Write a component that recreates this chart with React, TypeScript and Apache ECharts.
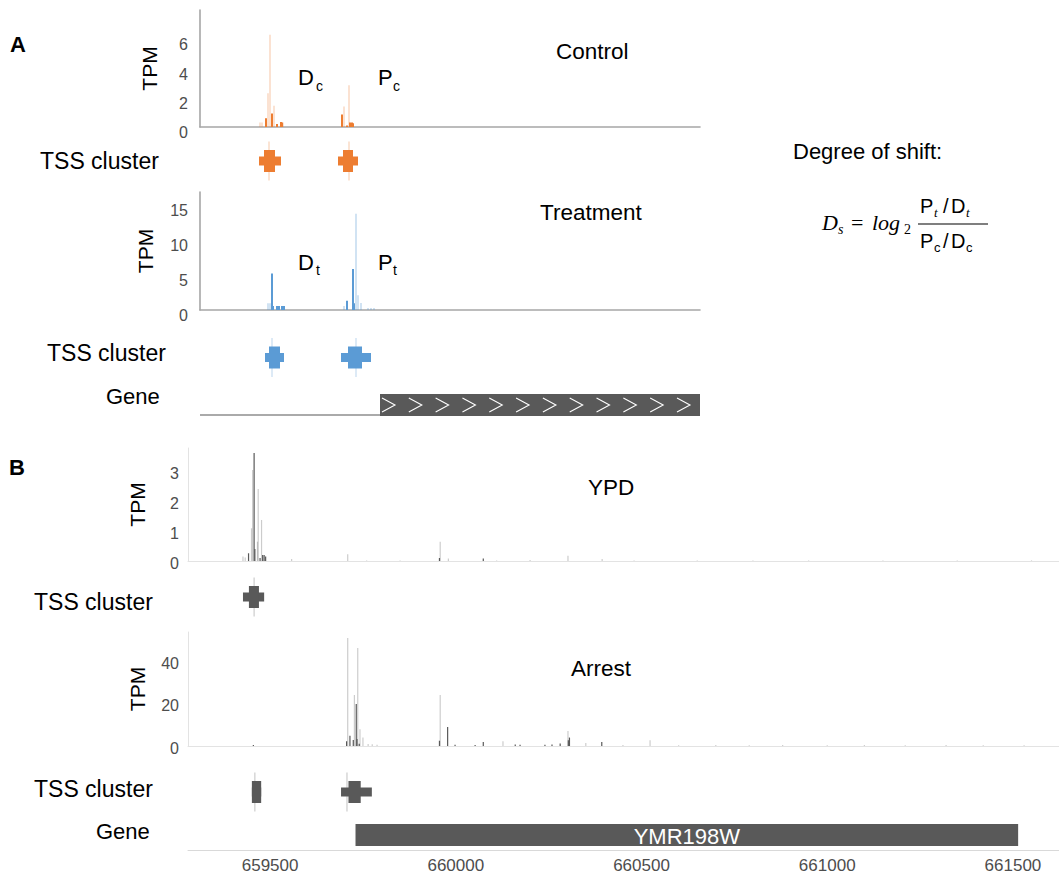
import React, { useEffect, useRef } from 'react';
import * as echarts from 'echarts';

// ---------------- Panel A (schematic, x = relative position units) ----------------
const controlLight: [number, number][] = [[60, 0.3], [62, 0.3], [68, 2.3], [70, 6.3], [74, 1.45], [83, 0.3], [144, 1.4], [149, 2.86]];
const controlDark: [number, number][] = [[66, 0.6], [72, 0.93], [77, 0.2], [81, 0.35], [82, 0.3], [142, 0.86], [147, 0.1], [150, 0.3], [152, 0.3], [153, 0.25]];
const treatLight: [number, number][] = [[68, 0.95], [70, 0.95], [144, 0.57], [156, 13.8], [158, 2.1], [161, 1.0], [168, 0.3], [171, 0.3], [174, 0.3]];
const treatDark: [number, number][] = [[72, 5.24], [73, 0.57], [77, 0.57], [79, 0.57], [82, 0.57], [84, 0.57], [147, 1.33], [153, 5.86], [154, 0.95]];
// [start, end, quantileLow, quantileHigh, dominant]
const controlClusters = [[59, 81, 64, 75, 69], [138, 158, 143, 153, 149]];
const treatClusters = [[65, 84, 69, 80, 72], [141, 171, 148, 162, 156]];
// [upstream line start, gene start, gene end]
const geneA = [[0, 180, 500]];
const geneAChevrons = 12;
const controlTicks = { max: 8, interval: 2 };
const treatTicks = { max: 16.9, interval: 5 };

// ---------------- Panel B (genomic coordinates) ----------------
const bRange = [659279, 661624];
const bTickValues = [659500, 660000, 660500, 661000, 661500];
const ypdLight: [number, number][] = [[659427, 0.15], [659433, 0.12], [659450, 1.1], [659453, 3.06], [659466, 0.65], [659468, 2.42], [659477, 1.38], [659558, 0.07], [659709, 0.23], [659760, 0.02], [659850, 0.02], [659958, 0.65], [659980, 0.08], [660110, 0.02], [660200, 0.03], [660302, 0.18], [660394, 0.07], [660480, 0.02], [660650, 0.02], [660800, 0.02], [660950, 0.02], [661150, 0.02], [661350, 0.02], [661550, 0.02]];
const ypdDark: [number, number][] = [[659442, 0.26], [659457, 3.63], [659459, 0.4], [659473, 0.1], [659480, 0.2], [659484, 0.2], [659488, 0.15], [659956, 0.1], [660074, 0.08]];
const arrestLight: [number, number][] = [[659709, 51.1], [659727, 24.1], [659736, 46.4], [659742, 7.9], [659750, 4], [659764, 1], [659775, 0.8], [659788, 0.6], [659958, 24.1], [660127, 2.2], [660302, 7.1], [660350, 1.4], [660450, 0.5], [660523, 2.7], [660600, 0.4], [660700, 0.5], [660790, 0.4], [660880, 0.5], [661000, 0.4], [661100, 0.5], [661210, 0.4], [661320, 0.5], [661420, 0.4], [661530, 0.4]];
const arrestDark: [number, number][] = [[659455, 0.5], [659706, 2.2], [659715, 4.8], [659724, 2.8], [659732, 19.9], [659734, 3.3], [659740, 1.1], [659956, 2.5], [659978, 9], [659998, 0.6], [660052, 0.5], [660074, 1.9], [660160, 0.7], [660173, 0.6], [660240, 0.6], [660259, 0.7], [660281, 1.2], [660303, 2.7], [660306, 4], [660393, 1.9]];
const ypdClusters = [[659427, 659484, 659443, 659470, 659457]];
const arrestClusters = [[659451, 659476, 659451, 659476, 659459], [659691, 659774, 659711, 659744, 659707]];
const geneB = [[659730, 661514]];
const geneBName = 'YMR198W';
const ypdTicks = { max: 3.8, interval: 1 };
const arrestTicks = { max: 54, interval: 20 };

const FONT = "'Liberation Sans', Arial, Helvetica, sans-serif";
const SERIF = "'Liberation Serif', 'DejaVu Serif', serif";

const ORANGE = '#ED7D31';
const ORANGE_L = 'rgba(237,125,49,0.22)';
const BLUE = '#5B9BD5';
const BLUE_L = 'rgba(91,155,213,0.28)';
const GREY = '#595959';
const GREY_L = 'rgba(0,0,0,0.2)';

function txt(text: string, x: number, y: number, size: number, extra: any = {}) {
  return {
    type: 'text', x, y, silent: true,
    style: { text, fontSize: size, fontFamily: FONT, fill: '#000', textAlign: 'left', textVerticalAlign: 'middle', ...extra },
  };
}

function clusterRenderer(lineColor: string, color: string) {
  return (params: any, api: any) => {
    const cy = api.coord([api.value(0), 0.5])[1];
    const x0 = api.coord([api.value(0), 0.5])[0];
    const x1 = api.coord([api.value(1), 0.5])[0];
    const q0 = api.coord([api.value(2), 0.5])[0];
    const q1 = api.coord([api.value(3), 0.5])[0];
    const d = api.coord([api.value(4), 0.5])[0];
    return {
      type: 'group',
      children: [
        { type: 'line', shape: { x1: d, y1: cy - 19.5, x2: d, y2: cy + 19.5 }, style: { stroke: lineColor, lineWidth: 1.2 } },
        { type: 'rect', shape: { x: x0, y: cy - 4.5, width: x1 - x0, height: 9 }, style: { fill: color } },
        { type: 'rect', shape: { x: q0, y: cy - 11, width: q1 - q0, height: 22 }, style: { fill: color } },
      ],
    };
  };
}

export default function App() {
  const ref = useRef<HTMLDivElement>(null);
  useEffect(() => {
    if (!ref.current) return;
    const chart = echarts.init(ref.current, undefined, { renderer: 'svg' });

    const grids = [
      { left: 200, top: 10, width: 500, height: 117 }, // 0 control
      { left: 200, top: 141, width: 500, height: 40 }, // 1 control cluster
      { left: 200, top: 192, width: 500, height: 118 }, // 2 treatment
      { left: 200, top: 337.5, width: 500, height: 40 }, // 3 treatment cluster
      { left: 200, top: 385, width: 500, height: 40 }, // 4 gene A
      { left: 188, top: 448, width: 871, height: 113 }, // 5 YPD
      { left: 188, top: 577, width: 871, height: 40 }, // 6 YPD cluster
      { left: 188, top: 632, width: 871, height: 114 }, // 7 Arrest
      { left: 188, top: 772, width: 871, height: 40 }, // 8 Arrest cluster
      { left: 188, top: 820, width: 871, height: 32 }, // 9 gene B
    ];

    const aAxisLine = { show: true, lineStyle: { color: '#a6a6a6', width: 1.6 } };
    const bAxisLine = { show: true, lineStyle: { color: '#e3e3e3', width: 1 } };

    const xAxes: any[] = grids.map((g, i) => {
      const isA = i <= 4;
      const base: any = {
        type: 'value', gridIndex: i,
        min: isA ? 0 : bRange[0], max: isA ? 500 : bRange[1],
        splitLine: { show: false }, axisTick: { show: false }, axisLabel: { show: false },
        axisLine: { show: false },
      };
      if (i === 0 || i === 2) base.axisLine = aAxisLine;
      if (i === 5 || i === 7) base.axisLine = bAxisLine;
      if (i === 9) {
        base.axisLine = { show: true, lineStyle: { color: '#d9d9d9', width: 1 } };
        base.axisLabel = {
          show: true, customValues: bTickValues, formatter: (v: number) => String(v),
          fontSize: 17, color: '#4d4d4d', fontFamily: FONT, margin: 7,
        };
      }
      return base;
    });

    const hiddenY = (i: number) => ({ type: 'value', gridIndex: i, min: 0, max: 1, show: false });
    const tpmAxis = (i: number, ticks: any, isA: boolean, nameGap: number) => ({
      type: 'value', gridIndex: i, min: 0, max: ticks.max, interval: ticks.interval,
      name: 'TPM', nameLocation: 'middle', nameGap, nameRotate: 90,
      nameTextStyle: { fontSize: 21, color: '#000', fontFamily: FONT },
      splitLine: { show: false }, axisTick: { show: false },
      axisLine: isA ? aAxisLine : bAxisLine,
      axisLabel: {
        showMaxLabel: false, fontSize: 16, color: '#4d4d4d', fontFamily: FONT,
        margin: isA ? 12 : 9, verticalAlign: 'top', lineHeight: isA ? 11 : 4,
      },
    });

    const yAxes: any[] = [
      tpmAxis(0, controlTicks, true, 40),
      hiddenY(1),
      tpmAxis(2, treatTicks, true, 44.5),
      hiddenY(3),
      hiddenY(4),
      tpmAxis(5, ypdTicks, false, 40.5),
      hiddenY(6),
      tpmAxis(7, arrestTicks, false, 40.5),
      hiddenY(8),
      hiddenY(9),
    ];

    const bar = (idx: number, data: any, color: string, w: number) => ({
      type: 'bar', xAxisIndex: idx, yAxisIndex: idx, data, barWidth: w, barGap: '-100%',
      itemStyle: { color }, silent: true,
    });

    const cluster = (idx: number, data: number[][], lineColor: string, color: string) => ({
      type: 'custom', xAxisIndex: idx, yAxisIndex: idx, silent: true,
      data: data.map((d) => [...d, 0.5]), encode: { x: [0, 1, 2, 3, 4], y: 5 },
      renderItem: clusterRenderer(lineColor, color),
    });

    const geneASeries = {
      type: 'custom', xAxisIndex: 4, yAxisIndex: 4, silent: true,
      data: geneA.map((d) => [...d, 0.5]), encode: { x: [0, 1, 2], y: 3 },
      renderItem: (params: any, api: any) => {
        const cy = api.coord([api.value(0), 0.5])[1];
        const l0 = api.coord([api.value(0), 0.5])[0];
        const x0 = api.coord([api.value(1), 0.5])[0];
        const x1 = api.coord([api.value(2), 0.5])[0];
        const children: any[] = [
          { type: 'line', shape: { x1: l0, y1: cy + 10, x2: x0, y2: cy + 10 }, style: { stroke: '#aaaaaa', lineWidth: 2 } },
          { type: 'rect', shape: { x: x0, y: cy - 11, width: x1 - x0, height: 22 }, style: { fill: GREY } },
        ];
        const n = geneAChevrons;
        const step = (x1 - x0 - 25) / (n - 1);
        for (let k = 0; k < n; k++) {
          const cx = x0 + 2 + k * step;
          children.push({
            type: 'polyline',
            shape: { points: [[cx, cy - 7], [cx + 13, cy], [cx, cy + 7]] },
            style: { stroke: '#ffffff', lineWidth: 1.1, fill: 'none' },
          });
        }
        return { type: 'group', children };
      },
    };

    const geneBSeries = {
      type: 'custom', xAxisIndex: 9, yAxisIndex: 9, silent: true,
      data: geneB.map((d) => [...d, 0.5]), encode: { x: [0, 1], y: 2 },
      renderItem: (params: any, api: any) => {
        const cy = api.coord([api.value(0), 0.5])[1];
        const x0 = api.coord([api.value(0), 0.5])[0];
        const x1 = api.coord([api.value(1), 0.5])[0];
        return {
          type: 'group',
          children: [
            { type: 'rect', shape: { x: x0, y: cy - 11, width: x1 - x0, height: 22 }, style: { fill: GREY } },
            {
              type: 'text', x: (x0 + x1) / 2, y: cy + 1,
              style: { text: geneBName, fill: '#fff', fontSize: 22, fontFamily: FONT, textAlign: 'center', textVerticalAlign: 'middle' },
            },
          ],
        };
      },
    };

    const graphic: any[] = [
      txt('A', 10, 44, 22, { fontWeight: 'bold' }),
      txt('B', 9, 467, 22, { fontWeight: 'bold' }),
      txt('Control', 556, 51, 22.5),
      txt('Treatment', 540, 212, 22.5),
      txt('YPD', 588, 487, 22.5),
      txt('Arrest', 571, 668, 22.5),
      txt('D', 298, 77, 22), txt('c', 316, 86, 14),
      txt('P', 378, 77, 22), txt('c', 393, 86, 14),
      txt('D', 298, 262, 22), txt('t', 316, 270, 14),
      txt('P', 378, 262, 22), txt('t', 393, 270, 14),
      txt('TSS cluster', 40, 161, 23),
      txt('TSS cluster', 47, 353, 23),
      txt('TSS cluster', 34, 602, 23),
      txt('TSS cluster', 34, 789, 23),
      txt('Gene', 106, 396, 22),
      txt('Gene', 96, 831, 22),
      txt('Degree of shift:', 793, 151, 22),
      // formula
      txt('D', 822, 222, 22, { fontFamily: SERIF, fontStyle: 'italic' }),
      txt('s', 838, 229, 14, { fontFamily: SERIF, fontStyle: 'italic' }),
      txt('=', 851, 222, 22, { fontFamily: SERIF }),
      txt('log', 872, 222, 22, { fontFamily: SERIF, fontStyle: 'italic' }),
      txt('2', 904, 229, 14, { fontFamily: SERIF }),
      txt('P', 920, 206, 20), txt('t', 934, 212, 13, { fontFamily: SERIF, fontStyle: 'italic' }),
      txt('/', 943, 206, 20), txt('D', 951, 206, 20), txt('t', 966, 212, 13, { fontFamily: SERIF, fontStyle: 'italic' }),
      { type: 'line', silent: true, shape: { x1: 918, y1: 224, x2: 988, y2: 224 }, style: { stroke: '#000', lineWidth: 1.2 } },
      txt('P', 920, 241, 20), txt('c', 934, 247, 13),
      txt('/', 943, 241, 20), txt('D', 951, 241, 20), txt('c', 966, 247, 13),
    ];

    chart.setOption({
      animation: false,
      grid: grids,
      xAxis: xAxes,
      yAxis: yAxes,
      graphic,
      series: [
        bar(0, controlLight, ORANGE_L, 2),
        bar(0, controlDark, ORANGE, 2),
        cluster(1, controlClusters, 'rgba(237,125,49,0.35)', ORANGE),
        bar(2, treatLight, BLUE_L, 2),
        bar(2, treatDark, BLUE, 2),
        cluster(3, treatClusters, 'rgba(91,155,213,0.35)', BLUE),
        geneASeries,
        bar(5, ypdLight, GREY_L, 1.2),
        bar(5, ypdDark, GREY, 1.2),
        cluster(6, ypdClusters, '#cccccc', GREY),
        bar(7, arrestLight, GREY_L, 1.2),
        bar(7, arrestDark, GREY, 1.2),
        cluster(8, arrestClusters, '#cccccc', GREY),
        geneBSeries,
      ],
    });
    return () => chart.dispose();
  }, []);

  return <div ref={ref} style={{ position: 'fixed', left: 0, top: 0, width: 1059, height: 874, background: '#fff' }} />;
}
